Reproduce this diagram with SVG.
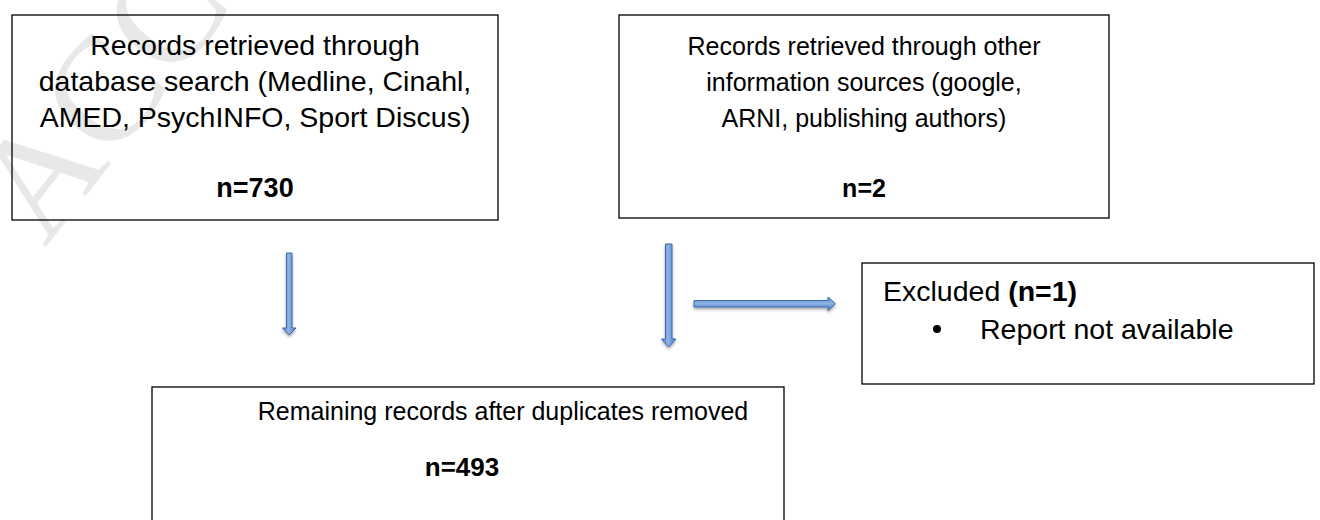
<svg xmlns="http://www.w3.org/2000/svg" width="1320" height="520" viewBox="0 0 1320 520">
  <style>
    .box { fill: none; stroke: #000; stroke-width: 1.3; }
    .txt { font-family: "Liberation Sans", Arial, sans-serif; font-size: 25px; fill: #000; }
    .big { font-size: 28.5px; }
    .mid { text-anchor: middle; }
    .bold { font-weight: bold; }
    .mark { font-family: "Liberation Serif", "Times New Roman", serif; font-size: 150px; fill: #e8e8e8; }
    .arrow { fill: url(#blueV); stroke: #3c6ca8; stroke-width: 1; filter: url(#shadow); }
    .arrowH { fill: url(#blueH); stroke: #3c6ca8; stroke-width: 1; filter: url(#shadow); }
  </style>
  <defs>
    <linearGradient id="blueV" x1="0" y1="0" x2="1" y2="0">
      <stop offset="0" stop-color="#4a7cc0"/>
      <stop offset="0.45" stop-color="#8fb4e6"/>
      <stop offset="1" stop-color="#4a7cc0"/>
    </linearGradient>
    <linearGradient id="blueH" x1="0" y1="0" x2="0" y2="1">
      <stop offset="0" stop-color="#4a7cc0"/>
      <stop offset="0.45" stop-color="#8fb4e6"/>
      <stop offset="1" stop-color="#4a7cc0"/>
    </linearGradient>
    <filter id="shadow" x="-50%" y="-50%" width="200%" height="200%">
      <feGaussianBlur in="SourceAlpha" stdDeviation="1.5"/>
      <feOffset dx="0" dy="2" result="b"/>
      <feComponentTransfer><feFuncA type="linear" slope="0.35"/></feComponentTransfer>
      <feMerge><feMergeNode/><feMergeNode in="SourceGraphic"/></feMerge>
    </filter>
  </defs>

  <rect width="1320" height="520" fill="#fff"/>

  <!-- background watermark -->
  <text class="mark" transform="translate(45 248) rotate(-52)">ACC</text>

  <g id="node-database">
    <rect class="box" x="12" y="15" width="486" height="205"/>
    <text class="txt big mid" x="255" y="55">Records retrieved through</text>
    <text class="txt big mid" x="255" y="91">database search (Medline, Cinahl,</text>
    <text class="txt big mid" x="255" y="127">AMED, PsychINFO, Sport Discus)</text>
    <text class="txt mid bold" x="255" y="197" style="font-size:27px">n=730</text>
  </g>

  <g id="node-other">
    <rect class="box" x="619" y="15" width="490" height="203"/>
    <text class="txt mid" x="864" y="55">Records retrieved through other</text>
    <text class="txt mid" x="864" y="91">information sources (google,</text>
    <text class="txt mid" x="864" y="127">ARNI, publishing authors)</text>
    <text class="txt mid bold" x="864" y="197">n=2</text>
  </g>

  <g id="node-excluded">
    <rect class="box" x="862" y="263" width="452" height="121"/>
    <text class="txt big" x="883" y="301">Excluded <tspan class="bold">(n=1)</tspan></text>
    <circle cx="937" cy="329" r="4" fill="#000"/>
    <text class="txt big" x="980" y="339">Report not available</text>
  </g>

  <g id="node-remaining">
    <rect class="box" x="152" y="387" width="632" height="140"/>
    <text class="txt mid" x="503" y="420">Remaining records after duplicates removed</text>
    <text class="txt mid bold" x="462" y="476" style="font-size:26px">n=493</text>
  </g>

  <g id="connectors">
    <path class="arrow" d="M286.5 253 H292 V328 H296 L289.2 335 L282.5 328 H286.5 Z"/>
    <path class="arrow" d="M665.5 244 H672 V339 H676 L668.7 347 L661.5 339 H665.5 Z"/>
    <path class="arrowH" d="M694 300.5 H828 V297 L835.5 303.7 L828 310.5 V307 H694 Z"/>
  </g>
</svg>
